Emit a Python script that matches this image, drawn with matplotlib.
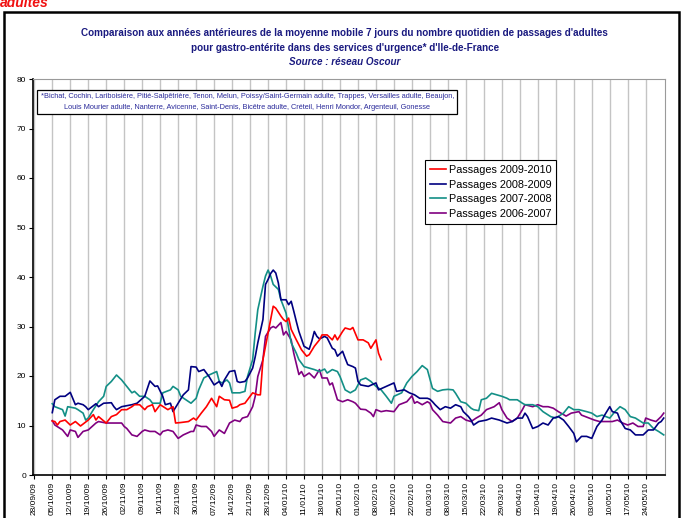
import matplotlib
matplotlib.use("Agg")
import matplotlib.pyplot as plt
from matplotlib.patches import Rectangle
from matplotlib.lines import Line2D
import numpy as np

plt.rcParams['font.family'] = ['Liberation Sans Narrow', 'Liberation Sans', 'DejaVu Sans']

#################################################################
## Data (jours depuis le 28/09/2009, moyenne mobile 7 jours)

week_labels = ["28/09/09", "05/10/09", "12/10/09", "19/10/09", "26/10/09", "02/11/09",
               "09/11/09", "16/11/09", "23/11/09", "30/11/09", "07/12/09", "14/12/09",
               "21/12/09", "28/12/09", "04/01/10", "11/01/10", "18/01/10", "25/01/10",
               "01/02/10", "08/02/10", "15/02/10", "22/02/10", "01/03/10", "08/03/10",
               "15/03/10", "22/03/10", "29/03/10", "05/04/10", "12/04/10", "19/04/10",
               "26/04/10", "03/05/10", "10/05/10", "17/05/10", "24/05/10"]

days_0910 = [7, 8, 9, 10, 12, 14, 16, 18, 21, 23, 24, 25, 28, 30, 32, 34, 36, 38, 39, 41,
             43, 44, 46, 47, 49, 52, 54, 55, 57, 60, 62, 63, 65, 67, 69, 71, 72, 74, 76, 77,
             79, 80, 82, 84, 85, 87, 88, 89, 91, 93, 94, 96, 97, 98, 99, 100, 102, 104, 106,
             107, 109, 111, 112, 114, 116, 117, 118, 120, 121, 123, 124, 126, 128, 130, 131,
             133, 134, 135]
vals_0910 = [10.9, 10.8, 10.1, 10.8, 11.1, 10.1, 10.8, 9.9, 11.1, 12.2, 11.1, 11.8, 10.5,
             11.8, 12.2, 13.2, 13.2, 13.8, 14.2, 14.2, 13.2, 13.8, 14.2, 12.8, 14.2, 13.2,
             13.8, 10.5, 10.6, 10.8, 11.5, 11.1, 12.5, 13.8, 15.5, 13.8, 15.9, 15.2, 15.1,
             13.5, 13.8, 14.2, 14.5, 15.9, 16.6, 16.2, 16.2, 23.3, 28.7, 34.1, 33.7, 32.1,
             31.4, 31.0, 31.7, 29.4, 27.3, 25.3, 24.0, 24.3, 26.0, 27.3, 28.3, 28.3, 27.3,
             28.3, 27.3, 29.0, 29.7, 29.4, 29.8, 27.3, 27.3, 26.7, 25.6, 27.3, 24.6, 23.3]

days_0809 = [7, 8, 10, 12, 14, 16, 17, 19, 20, 21, 24, 25, 27, 30, 31, 32, 34, 38, 40, 43,
             45, 47, 48, 50, 51, 53, 54, 56, 58, 60, 61, 63, 64, 66, 68, 70, 72, 73, 74, 76,
             78, 79, 80, 82, 83, 85, 86, 87, 89, 90, 91, 92, 93, 94, 95, 96, 98, 99, 100,
             101, 102, 103, 105, 107, 108, 109, 110, 111, 113, 114, 116, 117, 118, 120, 121,
             122, 124, 125, 126, 127, 130, 133, 134, 137, 140, 141, 144, 146, 148, 150, 153,
             154, 155, 156, 158, 160, 162, 164, 166, 167, 169, 170, 171, 173, 176, 178, 181,
             184, 186, 188, 190, 191, 192, 194, 196, 198, 200, 202, 204, 206, 208, 210, 211,
             213, 215, 217, 219, 221, 222, 224, 225, 227, 228, 230, 232, 234, 237, 239, 241,
             243, 244, 245]
vals_0809 = [12.6, 15.2, 15.9, 15.9, 16.7, 14.2, 14.5, 14.2, 13.8, 13.2, 14.4, 13.8, 14.5,
             14.6, 13.8, 13.2, 13.8, 14.2, 14.5, 15.9, 19.0, 17.9, 18.0, 15.9, 14.2, 14.5,
             12.8, 14.5, 16.2, 17.2, 21.9, 21.8, 20.9, 21.3, 19.9, 18.2, 18.9, 17.9, 19.2,
             20.9, 21.1, 18.9, 18.7, 18.9, 19.6, 21.6, 23.9, 26.7, 31.4, 38.5, 39.5, 40.7,
             41.4, 40.8, 38.8, 35.4, 35.4, 34.4, 35.1, 33.1, 31.0, 29.0, 26.0, 25.4, 27.0,
             29.0, 28.0, 27.5, 28.0, 27.7, 25.6, 25.3, 24.0, 25.0, 23.6, 22.3, 21.9, 21.6,
             18.9, 18.2, 17.9, 18.6, 17.2, 17.9, 18.6, 16.9, 17.2, 16.6, 16.2, 15.5, 15.5,
             15.3, 14.8, 14.2, 13.2, 13.8, 13.5, 14.2, 13.8, 12.8, 11.8, 11.1, 10.1, 10.8,
             11.1, 11.5, 11.1, 10.5, 10.8, 11.5, 11.5, 12.5, 11.8, 9.4, 9.8, 10.5, 10.1,
             11.5, 11.8, 11.1, 9.8, 8.4, 6.7, 7.8, 7.8, 7.4, 9.8, 11.1, 12.1, 13.8, 12.8,
             12.5, 11.1, 9.4, 9.1, 8.1, 8.1, 9.1, 9.1, 10.5, 10.8, 11.5]

days_0708 = [7, 8, 11, 12, 13, 16, 17, 19, 20, 21, 23, 25, 27, 28, 30, 32, 34, 36, 38, 39,
             41, 43, 45, 46, 49, 50, 53, 54, 56, 57, 59, 61, 63, 64, 66, 68, 71, 72, 73, 75,
             76, 77, 80, 82, 83, 85, 86, 87, 89, 90, 91, 92, 93, 95, 96, 98, 99, 100, 102,
             103, 105, 107, 109, 111, 113, 114, 116, 118, 119, 121, 123, 125, 127, 129, 131,
             133, 135, 137, 139, 140, 143, 145, 147, 149, 151, 153, 154, 155, 157, 159, 161,
             163, 164, 166, 168, 170, 171, 173, 174, 176, 178, 180, 182, 184, 185, 188, 190,
             191, 194, 196, 198, 201, 203, 206, 208, 210, 212, 215, 217, 219, 221, 224, 226,
             228, 230, 232, 234, 237, 239, 241, 243, 245]
vals_0708 = [14.4, 13.8, 13.2, 11.9, 13.8, 13.5, 13.2, 12.5, 11.1, 11.5, 13.2, 14.8, 15.9,
             17.9, 18.9, 20.2, 19.2, 17.9, 16.6, 16.9, 15.9, 15.9, 15.2, 14.5, 14.5, 16.6,
             17.2, 17.9, 17.2, 15.9, 15.2, 14.5, 15.5, 17.2, 19.6, 20.2, 20.9, 18.9, 18.6,
             19.2, 18.6, 16.6, 16.6, 16.9, 19.9, 23.3, 28.7, 33.4, 38.1, 40.2, 41.4, 40.2,
             38.5, 37.5, 35.4, 32.7, 29.7, 26.7, 24.6, 23.3, 21.9, 21.6, 21.3, 20.9, 21.4,
             20.6, 21.3, 20.9, 19.9, 17.2, 16.6, 17.2, 19.2, 19.6, 18.9, 17.9, 17.2, 15.9,
             14.5, 15.9, 16.6, 18.6, 19.9, 20.9, 22.1, 21.3, 19.4, 17.5, 16.9, 17.2, 17.3,
             17.2, 16.5, 14.8, 14.5, 13.5, 13.2, 13.0, 15.2, 15.5, 16.5, 16.2, 15.9, 15.5,
             15.2, 15.2, 14.5, 14.2, 14.2, 13.8, 12.8, 11.8, 11.5, 12.5, 13.8, 13.2, 13.2,
             12.8, 12.5, 11.8, 12.1, 11.5, 12.8, 13.8, 13.2, 11.8, 11.5, 10.5, 10.5, 9.4,
             8.8, 8.1]

days_0607 = [7, 8, 11, 13, 14, 16, 17, 19, 21, 24, 25, 28, 30, 34, 35, 36, 38, 40, 42, 43,
             45, 47, 49, 50, 52, 54, 56, 58, 61, 62, 63, 65, 67, 69, 70, 72, 74, 76, 78, 80,
             81, 83, 85, 86, 87, 89, 90, 92, 93, 94, 96, 97, 98, 100, 101, 103, 104, 105,
             107, 109, 111, 112, 114, 115, 116, 118, 120, 122, 124, 125, 127, 129, 131, 132,
             133, 135, 137, 140, 142, 145, 147, 148, 149, 151, 153, 154, 155, 157, 159, 162,
             164, 166, 168, 170, 172, 174, 176, 179, 181, 182, 184, 186, 188, 190, 191, 194,
             196, 198, 200, 202, 204, 205, 207, 209, 212, 213, 216, 218, 220, 223, 225, 227,
             229, 231, 233, 235, 237, 238, 240, 242, 244, 245]
vals_0607 = [11.0, 10.1, 9.1, 7.8, 9.1, 8.8, 7.6, 8.8, 9.1, 10.5, 10.8, 10.5, 10.5, 10.5,
             9.8, 9.4, 8.1, 7.8, 8.8, 9.1, 8.8, 8.8, 8.1, 8.8, 9.1, 8.8, 7.4, 8.1, 8.8, 8.8,
             10.1, 9.8, 9.8, 8.8, 7.8, 9.1, 8.4, 10.5, 11.1, 10.8, 11.5, 11.8, 13.8, 15.9,
             19.9, 23.3, 28.0, 29.7, 30.0, 29.7, 30.8, 28.3, 29.0, 27.3, 24.6, 20.3, 20.9,
             19.9, 20.6, 19.6, 21.3, 19.6, 19.6, 18.2, 18.6, 15.2, 14.8, 15.2, 14.8, 14.5,
             13.3, 13.2, 12.5, 11.8, 13.2, 12.8, 13.0, 12.8, 14.2, 14.8, 16.0, 14.5, 14.8,
             14.2, 14.8, 14.5, 13.2, 12.1, 10.8, 10.5, 11.5, 11.8, 11.1, 10.8, 11.5, 12.1,
             13.2, 13.8, 14.6, 13.2, 11.5, 10.8, 11.5, 13.2, 14.2, 13.8, 14.2, 13.8, 13.8,
             13.5, 12.8, 12.5, 11.9, 12.5, 12.8, 12.1, 11.5, 11.1, 10.8, 10.8, 10.8, 11.1,
             10.5, 10.1, 10.5, 9.8, 9.8, 11.5, 11.1, 10.8, 11.8, 12.5]

series_labels = ["Passages 2009-2010", "Passages 2008-2009", "Passages 2007-2008", "Passages 2006-2007"]
series_colors = ["#ff0000", "#000080", "#138f86", "#800080"]

hopitaux = ("*Bichat, Cochin, Lariboisière, Pitié-Salpêtrière, Tenon, Melun, Poissy/Saint-Germain adulte, "
            "Trappes, Versailles adulte, Beaujon,\nLouis Mourier adulte, Nanterre, Avicenne, Saint-Denis, "
            "Bicêtre adulte, Créteil, Henri Mondor, Argenteuil, Gonesse")

#################################################################
## Figure

W, H = 683, 518
fig = plt.figure(figsize=(W / 100, H / 100), dpi=100)

# cadre de la zone graphique
fig.add_artist(Rectangle((4 / W, -0.05), 675 / W, 1.05 - 12 / H, transform=fig.transFigure,
                         fill=False, edgecolor='black', linewidth=1.8, clip_on=False))
# bandeau coupé en haut de l'image
fig.text(0.0, 1 - 7 / H, "adultes", color='#f01010', fontsize=10, fontweight='bold',
         fontstyle='italic', ha='left', va='baseline')

title_color = '#1a1a80'
fig.text(0.505, 1 - 33 / H, "Comparaison aux années antérieures de la moyenne mobile 7 jours du nombre quotidien de passages d'adultes",
         ha='center', va='center', fontsize=7.1, fontweight='bold', color=title_color)
fig.text(0.505, 1 - 48 / H, "pour gastro-entérite dans des services d'urgence* d'Ile-de-France",
         ha='center', va='center', fontsize=7.1, fontweight='bold', color=title_color)
fig.text(0.505, 1 - 62 / H, "Source : réseau Oscour", ha='center', va='center', fontsize=7.1,
         fontweight='bold', fontstyle='italic', color=title_color)

ax = fig.add_axes([33 / W, 1 - 475 / H, 632 / W, 396 / H])

all_days = [days_0910, days_0809, days_0708, days_0607]
all_vals = [vals_0910, vals_0809, vals_0708, vals_0607]
for i in [3, 2, 1, 0]:
    ax.plot(all_days[i], all_vals[i], color=series_colors[i], linewidth=1.2, zorder=3)

ax.set_xlim(-0.5, 245.5)
ax.set_ylim(0, 80)
ax.set_xticks(np.arange(len(week_labels)) * 7)
ax.set_xticklabels(week_labels, rotation=90, fontsize=6)
ax.set_yticks(np.arange(0, 81, 10))
ax.tick_params(axis='y', direction='out', length=3, width=0.8, labelsize=6, pad=2)
ax.tick_params(axis='x', direction='out', length=3, width=0.8, pad=2)
ax.xaxis.grid(True, color='#c4c4c4', linewidth=1.0)
ax.set_axisbelow(True)
for side in ['left', 'bottom']:
    ax.spines[side].set_color('black')
    ax.spines[side].set_linewidth(1.2)
for side in ['top', 'right']:
    ax.spines[side].set_color('#9a9a9a')
    ax.spines[side].set_linewidth(0.8)

ax.text(0.339, 0.942, hopitaux, transform=ax.transAxes, ha='center', va='center',
        fontsize=5.3, color='#2a2a9a', linespacing=1.7, zorder=5,
        bbox=dict(boxstyle='square,pad=0.45', facecolor='white', edgecolor='black', linewidth=0.9))

handles = [Line2D([], [], color=c, linewidth=1.2) for c in series_colors]
leg = ax.legend(handles, series_labels, loc='upper left', bbox_to_anchor=(0.620, 0.795),
                borderaxespad=0, fontsize=7.8, frameon=True, fancybox=False, edgecolor='black',
                framealpha=1, handlelength=1.5, handletextpad=0.25, labelspacing=0.42,
                borderpad=0.45)
leg.get_frame().set_linewidth(0.8)

fig.savefig("out.png", dpi=100)
